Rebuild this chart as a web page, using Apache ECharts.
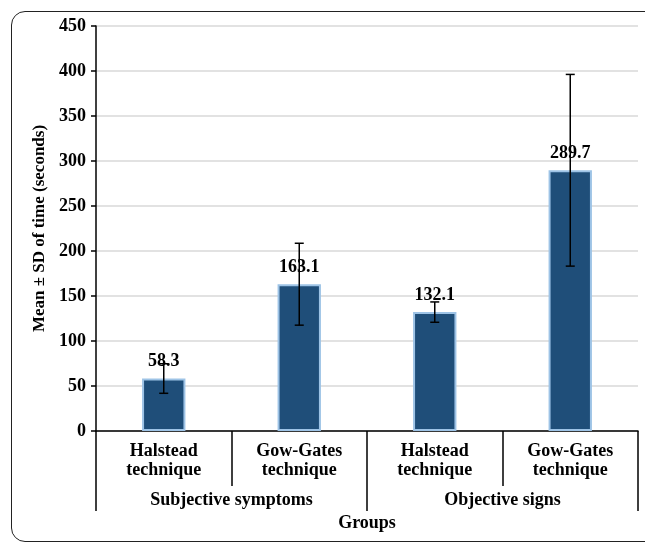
<!DOCTYPE html>
<html>
<head>
<meta charset="utf-8">
<script src="https://cdn.jsdelivr.net/npm/echarts@6/dist/echarts.min.js"></script>
<style>
html,body{margin:0;padding:0;background:#fff;overflow:hidden;}
#frame{position:absolute;left:11px;top:11px;width:660px;height:531px;border:1.5px solid #222;border-radius:14px;box-sizing:border-box;}
#chart{position:absolute;left:0;top:0;width:645px;height:544px;}
</style>
</head>
<body>
<div id="frame"></div>
<div id="chart"></div>
<script>
const categories = ['Halstead\ntechnique', 'Gow-Gates\ntechnique', 'Halstead\ntechnique', 'Gow-Gates\ntechnique'];
const groups = ['Subjective symptoms', 'Objective signs'];
const means = [58.3, 163.1, 132.1, 289.7];
const sds = [16.4, 45.5, 11.3, 106.5];
const yTicks = [0, 50, 100, 150, 200, 250, 300, 350, 400, 450];

const font = '"Liberation Serif", "Times New Roman", serif';
const chart = echarts.init(document.getElementById('chart'));
chart.setOption({
  animation: false,
  grid: { left: 96, right: 7, top: 26, bottom: 113 },
  xAxis: [
    {
      type: 'category', data: categories, position: 'bottom', offset: 0,
      axisLine: { lineStyle: { color: '#000', width: 1.5 } },
      axisTick: { show: true, length: 55, lineStyle: { color: '#000', width: 1.5 } },
      axisLabel: { color: '#000', fontFamily: font, fontWeight: 'bold', fontSize: 18, lineHeight: 19, margin: 11 }
    },
    {
      type: 'category', data: groups, position: 'bottom', offset: 0,
      axisLine: { show: false },
      axisTick: { show: true, length: 80, lineStyle: { color: '#000', width: 1.5 } },
      axisLabel: { color: '#000', fontFamily: font, fontWeight: 'bold', fontSize: 18, margin: 60 },
      name: 'Groups', nameLocation: 'middle', nameGap: 83,
      nameTextStyle: { color: '#000', fontFamily: font, fontWeight: 'bold', fontSize: 18 }
    }
  ],
  yAxis: {
    type: 'value', min: yTicks[0], max: yTicks[yTicks.length - 1], interval: 50,
    name: 'Mean \u00B1 SD of time (seconds)', nameLocation: 'middle', nameGap: 47,
    nameTextStyle: { color: '#000', fontFamily: font, fontWeight: 'bold', fontSize: 17 },
    axisLine: { show: true, lineStyle: { color: '#000', width: 1.5 } },
    axisTick: { show: true, length: 5, lineStyle: { color: '#000', width: 1.5 } },
    axisLabel: { color: '#000', fontFamily: font, fontWeight: 'bold', fontSize: 18, margin: 10 },
    splitLine: { lineStyle: { color: '#d9d9d9', width: 1.5 } }
  },
  series: [
    {
      type: 'bar', xAxisIndex: 0, data: means, barWidth: '32%',
      itemStyle: { color: '#1f4e79', borderColor: '#9dc3e6', borderWidth: 2 },
      label: { show: true, position: 'top', distance: 8, color: '#000', fontFamily: font, fontWeight: 'bold', fontSize: 18,
        formatter: p => p.value.toFixed(1) },
      z: 2
    },
    {
      type: 'custom', xAxisIndex: 0, z: 5,
      data: means.map((m, i) => [i, m - sds[i], m + sds[i]]),
      renderItem: function (params, api) {
        const lo = api.coord([api.value(0), api.value(1)]);
        const hi = api.coord([api.value(0), api.value(2)]);
        const x = lo[0], w = 4.5;
        const st = { stroke: '#000', lineWidth: 1.5 };
        return { type: 'group', children: [
          { type: 'line', shape: { x1: x, y1: lo[1], x2: x, y2: hi[1] }, style: st },
          { type: 'line', shape: { x1: x - w, y1: lo[1], x2: x + w, y2: lo[1] }, style: st },
          { type: 'line', shape: { x1: x - w, y1: hi[1], x2: x + w, y2: hi[1] }, style: st }
        ]};
      }
    }
  ]
});
</script>
</body>
</html>
